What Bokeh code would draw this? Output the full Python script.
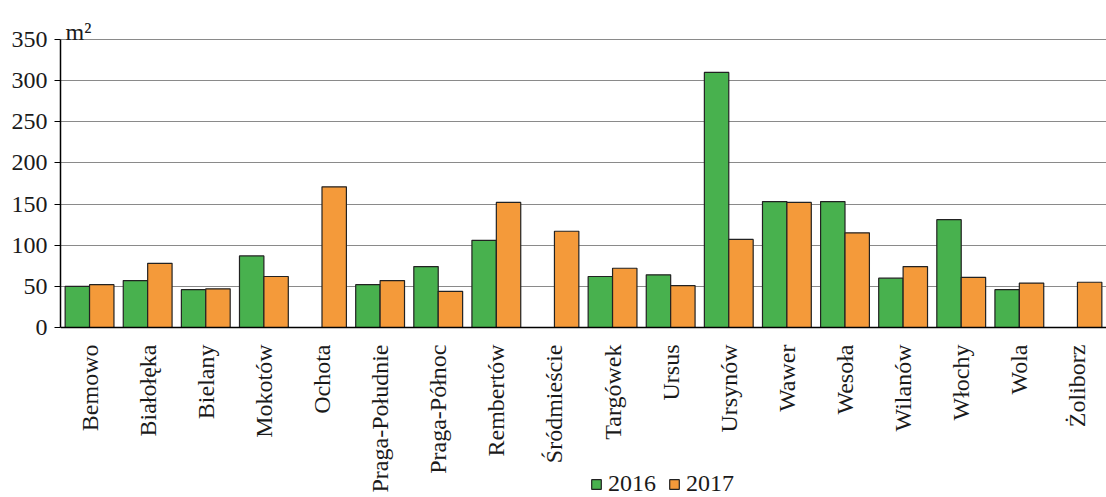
from bokeh.plotting import figure
from bokeh.models import FactorRange, Range1d, Legend, LegendItem, FixedTicker, ColumnDataSource, Label
from bokeh.transform import dodge
from bokeh.embed import file_html
from bokeh.resources import INLINE
import math

districts = ["Bemowo", "Białołęka", "Bielany", "Mokotów", "Ochota", "Praga-Południe",
             "Praga-Północ", "Rembertów", "Śródmieście", "Targówek", "Ursus", "Ursynów",
             "Wawer", "Wesoła", "Wilanów", "Włochy", "Wola", "Żoliborz"]
v2016 = [50, 57, 46, 87, 0, 52, 74, 106, 0, 62, 64, 310, 153, 153, 60, 131, 46, 0]
v2017 = [52, 78, 47, 62, 171, 57, 44, 152, 117, 72, 51, 107, 152, 115, 74, 61, 54, 55]
series = ["2016", "2017"]
colors = ["#48b14e", "#f49a3a"]
y_ticks = [0, 50, 100, 150, 200, 250, 300, 350]
unit = "m²"

FONT = "Liberation Serif"

src = ColumnDataSource(dict(x=districts, a=v2016, b=v2017))

# frame spans the whole height; values 0..350 occupy 288 px,
# 39 px of head room above, category labels and legend below zero
W, H = 1106, 497
HEAD = 39
Y_MAX_TICK = 350
PX = 288 / Y_MAX_TICK
Y_TOP = Y_MAX_TICK + HEAD / PX
Y_MIN = -(H - HEAD - 288) / PX

p = figure(x_range=FactorRange(*districts, range_padding=0.0), y_range=Range1d(Y_MIN, Y_TOP),
           width=W, height=H, output_backend="svg", toolbar_location=None)
p.min_border_left = 60
p.min_border_right = 0
p.min_border_top = 0
p.min_border_bottom = 0
p.outline_line_color = None

r1 = p.vbar(x=dodge("x", -0.21, range=p.x_range), top="a", width=0.42, source=src,
            fill_color=colors[0], line_color="#222222", line_width=1.2)
r2 = p.vbar(x=dodge("x", 0.21, range=p.x_range), top="b", width=0.42, source=src,
            fill_color=colors[1], line_color="#222222", line_width=1.2)

p.xgrid.grid_line_color = None
p.ygrid.grid_line_color = "#8a8a8a"
p.ygrid.grid_line_width = 1.2
p.yaxis.ticker = FixedTicker(ticks=y_ticks)
p.yaxis.bounds = (0, Y_MAX_TICK)

for ax in (p.xaxis, p.yaxis):
    ax.major_label_text_font = FONT
    ax.major_label_text_color = "#1a1a1a"
    ax.axis_line_color = "black"
    ax.axis_line_width = 1.5
    ax.minor_tick_line_color = None

p.yaxis.major_label_text_font_size = "24px"
p.yaxis.major_tick_out = 6
p.yaxis.major_tick_in = 0
p.yaxis.major_tick_line_color = "black"
p.yaxis.major_label_standoff = 7

p.xaxis.fixed_location = 0
p.xaxis.major_label_text_font_size = "24px"
p.xaxis.major_label_orientation = math.pi / 2
p.xaxis.major_tick_line_color = None
p.xaxis.major_tick_out = 0
p.xaxis.major_label_standoff = 17

unit_label = Label(x=5, y=H - 31, x_units="screen", y_units="screen", text=unit,
                   text_font=FONT, text_font_size="24px", text_color="#1a1a1a",
                   text_baseline="alphabetic", text_align="left")
p.add_layout(unit_label)

legend = Legend(items=[LegendItem(label=series[0], renderers=[r1]),
                       LegendItem(label=series[1], renderers=[r2])],
                orientation="horizontal", location=(530, 0))
legend.label_text_font = FONT
legend.label_text_font_size = "24px"
legend.label_text_color = "#1a1a1a"
legend.label_height = 18
legend.glyph_width = 12
legend.glyph_height = 12
legend.label_standoff = 6
legend.spacing = 12
legend.padding = 0
legend.margin = 0
legend.border_line_color = None
legend.background_fill_alpha = 0
p.add_layout(legend, "center")

open("out.html", "w").write(file_html(p, INLINE))
